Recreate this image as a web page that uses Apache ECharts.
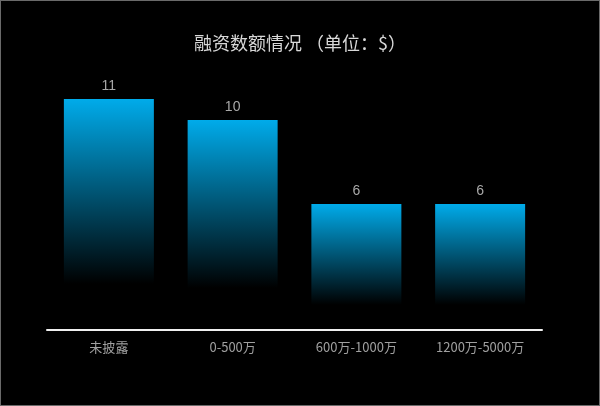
<!DOCTYPE html>
<html><head><meta charset="utf-8">
<script src="https://cdn.jsdelivr.net/npm/echarts@6/dist/echarts.min.js"></script>
<style>
html,body{margin:0;padding:0;background:#000;}
#c{width:600px;height:406px;box-sizing:border-box;border:1px solid #6a6a6a;}
</style></head>
<body><div id="c"></div>
<script>
var categories = ['未披露', '0-500万', '600万-1000万', '1200万-5000万'];
var values = [11, 10, 6, 6];
var titleText = '融资数额情况 （单位：$）';

var chart = echarts.init(document.getElementById('c'));
chart.setOption({
  backgroundColor: '#000',
  title: {
    text: titleText,
    left: 'center',
    top: 28,
    textStyle: {color: '#d8d8d8', fontSize: 18, fontWeight: 'normal', fontFamily: 'Noto Sans CJK SC'}
  },
  grid: {left: 46, right: 57, top: 77, bottom: 75},
  xAxis: {
    type: 'category',
    data: categories,
    z: 10,
    axisLine: {lineStyle: {color: '#f0f0f0', width: 2}},
    axisTick: {show: false},
    axisLabel: {color: '#a0a0a0', fontSize: 13, margin: 11, fontFamily: 'Noto Sans CJK SC'}
  },
  yAxis: {
    type: 'value',
    min: 0, max: 12,
    show: false,
    splitLine: {show: false}
  },
  series: [{
    type: 'bar',
    data: values,
    barWidth: 90,
    label: {show: true, position: 'top', distance: 6, color: '#a8a8a8', fontSize: 14},
    itemStyle: {
      color: new echarts.graphic.LinearGradient(0, 0, 0, 1, [
        {offset: 0, color: '#00abea'},
        {offset: 0.8, color: '#000000'},
        {offset: 1, color: '#000000'}
      ])
    }
  }]
});
</script>
</body></html>
